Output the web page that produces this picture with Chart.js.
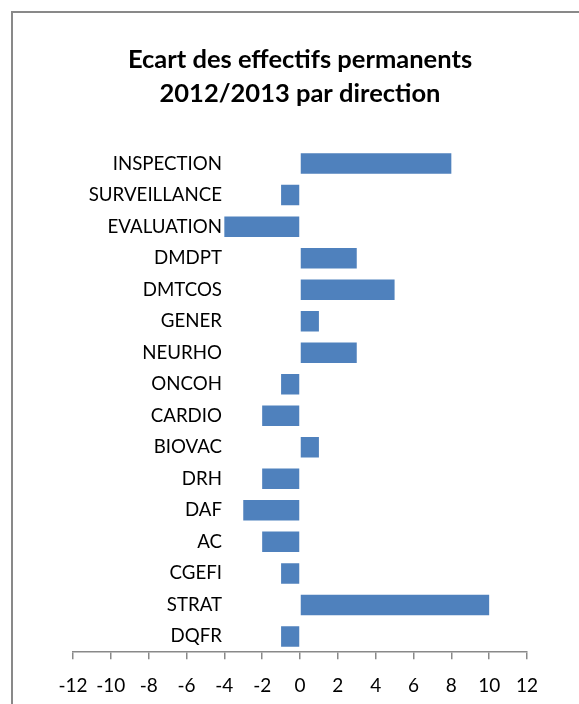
<!DOCTYPE html>
<html><head><meta charset="utf-8">
<script src="https://cdn.jsdelivr.net/npm/chart.js@4/dist/chart.umd.min.js"></script>
<style>
html,body{margin:0;padding:0;background:#fff;}
#wrap{position:relative;width:579px;height:704px;}
#frame{position:absolute;left:11px;top:11px;width:600px;height:720px;border-left:2px solid #898989;border-top:2px solid #898989;box-sizing:border-box;}
canvas{position:absolute;left:0;top:0;}
</style></head>
<body><div id="wrap"><div id="frame"></div><canvas id="c" width="579" height="704"></canvas></div>
<script>
const categories = ["INSPECTION","SURVEILLANCE","EVALUATION","DMDPT","DMTCOS","GENER","NEURHO","ONCOH","CARDIO","BIOVAC","DRH","DAF","AC","CGEFI","STRAT","DQFR"];
const values = [8,-1,-4,3,5,1,3,-1,-2,1,-2,-3,-2,-1,10,-1];
const titleLines = ["Ecart des effectifs permanents","2012/2013 par direction"];
const xMin = -12, xMax = 12, xStep = 2;

const labelFont = { family: 'Lato', size: 18.7 };
const chartLeft = 73, labelRight = 222;
const mctx = document.createElement('canvas').getContext('2d');
mctx.font = labelFont.size + 'px ' + labelFont.family;
const widest = Math.max(...categories.map(c => mctx.measureText(c).width));

new Chart(document.getElementById('c'), {
  type: 'bar',
  data: { labels: categories, datasets: [{ data: values, backgroundColor: '#4F81BD', borderWidth: 0, barPercentage: 0.65, categoryPercentage: 1.0 }] },
  options: {
    indexAxis: 'y',
    responsive: false,
    animation: false,
    layout: { padding: { left: chartLeft, right: 52, top: 43, bottom: -8 } },
    plugins: {
      legend: { display: false },
      tooltip: { enabled: false },
      title: { display: true, text: titleLines, color: '#000', font: { family: 'Lato', size: 25.5, weight: 'bold', lineHeight: 1.33 }, padding: { top: 0, bottom: 37 } }
    },
    scales: {
      x: {
        min: xMin, max: xMax,
        ticks: { stepSize: xStep, color: '#000', font: { family: 'Lato', size: 19 }, padding: 15 },
        grid: { display: true, drawOnChartArea: false, drawTicks: true, tickLength: 7, color: '#898989', lineWidth: 1.5 },
        border: { display: true, color: '#898989', width: 1.5 }
      },
      y: {
        position: 'left',
        afterFit: (scale) => { scale.width = 0; },
        ticks: { color: '#000', font: labelFont, mirror: true, crossAlign: 'far', padding: labelRight - chartLeft - widest },
        grid: { display: false, drawTicks: false },
        border: { display: false }
      }
    }
  }
});
</script></body></html>
